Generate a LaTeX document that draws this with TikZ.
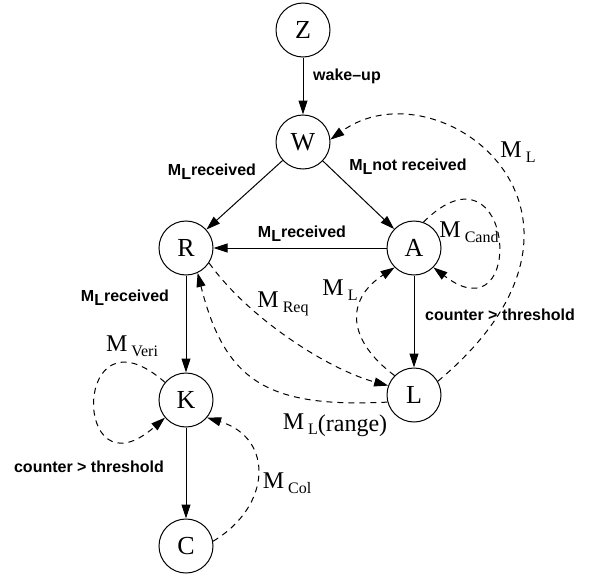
\documentclass[tikz,border=0pt]{standalone}
\usepackage{fontspec}
\setmainfont{Liberation Serif}
\setsansfont{Liberation Sans}
\usetikzlibrary{arrows.meta}

% message name with a lowered index
\newcommand{\msg}[1]{M\hspace{2pt}\raisebox{-2.5pt}{\fontsize{8}{9}\selectfont #1}}
% bold M_L used in the conditions
\newcommand{\bml}{M\raisebox{-2pt}{L}}

\begin{document}
\begin{tikzpicture}[x=0.5pt, y=-0.5pt,
    state/.style={circle, draw, line width=0.5pt, minimum size=27pt, inner sep=0pt,
      font=\fontsize{13}{15}\selectfont},
    trans/.style={line width=0.5pt, -{Triangle[length=7pt,width=4.5pt]}},
    msgline/.style={trans, dash pattern=on 3pt off 2.5pt},
    cond/.style={font=\sffamily\bfseries\fontsize{8}{9}\selectfont, inner sep=0pt},
    msglabel/.style={font=\fontsize{12}{14}\selectfont, inner sep=0pt}]
    \useasboundingbox (0,0) rectangle (600,578);

    % Draw the states
    \node[state] (Z) at (303,30) {Z};
    \node[state] (W) at (303,142) {W};
    \node[state] (R) at (186,248) {R};
    \node[state] (A) at (414,248) {A};
    \node[state] (L) at (414,395) {L};
    \node[state] (K) at (186,400) {K};
    \node[state] (C) at (186,546) {C};

    % Draw the transitions
    \draw[trans] (Z) -- (W);
    \draw[trans] (W) -- (R);
    \draw[trans] (W) -- (A);
    \draw[trans] (A) -- (R);
    \draw[trans] (R) -- (K);
    \draw[trans] (A) -- (L);
    \draw[trans] (K) -- (C);

    \node[cond] (lwake) at (347,76) {wake--up};
    \node[cond] (lwr) at (212,172) {\bml{}received};
    \node[cond] (lwa) at (408,167) {\bml{}not received};
    \node[cond] (lar) at (302,234) {\bml{}received};
    \node[cond] (lrk) at (125,298) {\bml{}received};
    \node[cond] (lal) at (500,315) {counter > threshold};
    \node[cond] (lkc) at (89,467) {counter > threshold};

    % Draw the messages
    \draw[msgline] (L.30) .. controls (639,213) and (438,61) .. (W.5);
    \draw[msgline] (A.70) .. controls (514,132) and (528,340) .. (A.-45);
    \draw[msgline] (L.135) .. controls (347,340) and (345,300) .. (A.225);
    \draw[msgline] (R.-33) .. controls (250,320) and (330,370) .. (L.160);
    \draw[msgline] (L.195) .. controls (268,408) and (225,382) .. (R.-65);
    \draw[msgline] (K.140) .. controls (71.5,300) and (71.5,500) .. (K.220);
    \draw[msgline] (C.10) .. controls (272,506) and (274,438) .. (K.-40);

    \node[msglabel] (mlw) at (518,152) {\msg{L}};
    \node[msglabel] (mcand) at (469,232) {\msg{Cand}};
    \node[msglabel] (mla) at (340,290) {\msg{L}};
    \node[msglabel] (mreq) at (283,304) {\msg{Req}};
    \node[msglabel] (mrange) at (335,425) {\msg{L}\raisebox{-0.8pt}{(range)}};
    \node[msglabel] (mveri) at (132,346) {\msg{Veri}};
    \node[msglabel] (mcol) at (287,483) {\msg{Col}};
\end{tikzpicture}
\end{document}
